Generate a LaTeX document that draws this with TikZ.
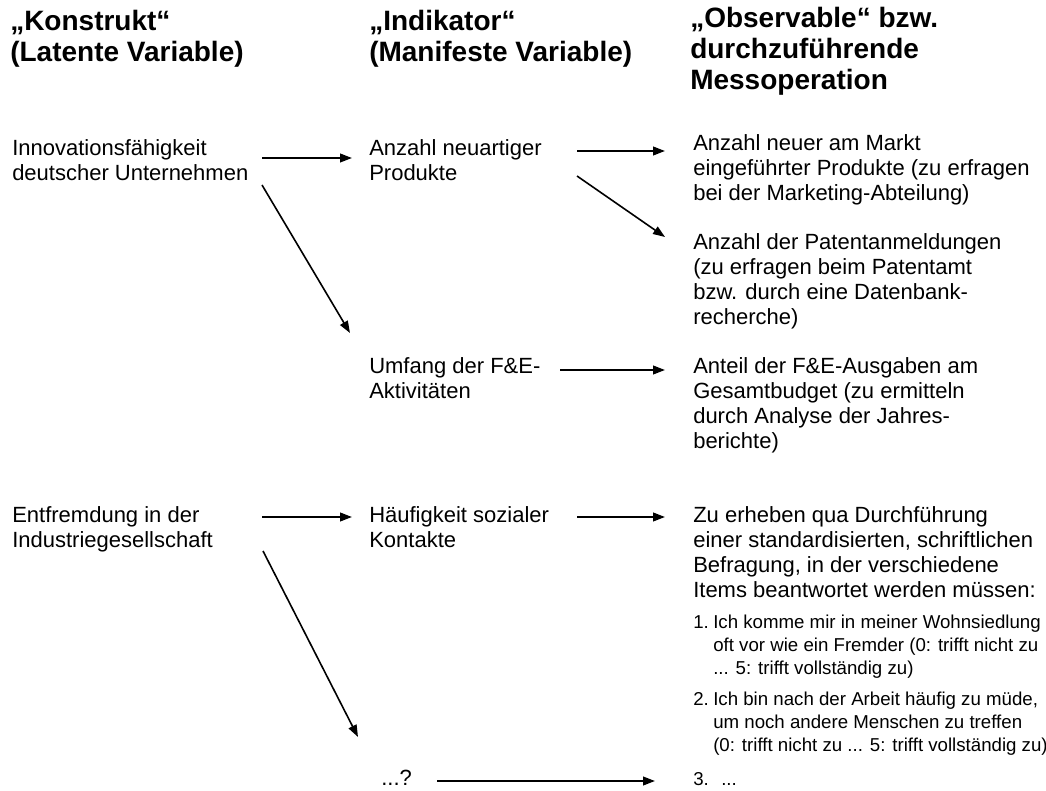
\documentclass[tikz,border=0pt]{standalone}
\usepackage{fontspec}
\setmainfont{Liberation Sans}
\usetikzlibrary{arrows.meta}

% anchor=base west sitzt bei mehrzeiligen Knoten auf der letzten Zeile
\tikzset{
  kopf/.style={anchor=base west, inner sep=0pt, align=left,
    font=\fontsize{21}{23.6}\selectfont\bfseries},
  txt/.style={anchor=base west, inner sep=0pt, align=left,
    font=\fontsize{16.5}{18.75}\selectfont},
  klein/.style={anchor=base west, inner sep=0pt, align=left,
    font=\fontsize{14}{17.25}\selectfont},
  pfeil/.style={-{Triangle[length=9pt,width=6.5pt]}, line width=1.5pt},
}

\begin{document}
\begin{tikzpicture}[x=0.75pt,y=-0.75pt]
        \useasboundingbox (0,0) rectangle (1046,791);

        % Spaltenkoepfe
        \node[kopf] (konstrukt) at (10,61.5) {„Konstrukt“\\(Latente Variable)};
        \node[kopf] (indikator) at (369,61.5) {„Indikator“\\(Manifeste Variable)};
        \node[kopf] (observable) at (690,90) {„Observable“ bzw.\\durchzuführende\\Messoperation};

        % Innovationsfaehigkeit
        \node[txt] (innov) at (12,181) {Innovationsfähigkeit\\deutscher Unternehmen};
        \node[txt] (neuart) at (369,181) {Anzahl neuartiger\\Produkte};
        \node[txt] (markt) at (693,201) {Anzahl neuer am Markt\\eingeführter Produkte (zu erfragen\\bei der Marketing-Abteilung)};
        \node[txt] (patent) at (693,325) {Anzahl der Patentanmeldungen\\(zu erfragen beim Patentamt\\bzw. durch eine Datenbank-\\recherche)};
        \node[txt] (fue) at (369,399) {Umfang der F\&E-\\Aktivitäten};
        \node[txt] (budget) at (693,449) {Anteil der F\&E-Ausgaben am\\Gesamtbudget (zu ermitteln\\durch Analyse der Jahres-\\berichte)};

        % Entfremdung
        \node[txt] (entfr) at (12,547) {Entfremdung in der\\Industriegesellschaft};
        \node[txt] (kontakt) at (369,547) {Häufigkeit sozialer\\Kontakte};
        \node[txt] (befrag) at (693,597) {Zu erheben qua Durchführung\\einer standardisierten, schriftlichen\\Befragung, in der verschiedene\\Items beantwortet werden müssen:};
        \node[klein] (nr1) at (693,628) {1.};
        \node[klein] (item1) at (713,674) {Ich komme mir in meiner Wohnsiedlung\\oft vor wie ein Fremder (0: trifft nicht zu\\... 5: trifft vollständig zu)};
        \node[klein] (nr2) at (693,705) {2.};
        \node[klein] (item2) at (713,751) {Ich bin nach der Arbeit häufig zu müde,\\um noch andere Menschen zu treffen\\(0: trifft nicht zu ... 5: trifft vollständig zu)};
        \node[klein] (nr3) at (693,785) {3.};
        \node[klein] (item3) at (721,785) {...};
        \node[txt] (frage) at (381,785) {...?};

        % Pfeilenden
        \coordinate (a1s) at (262,158);  \coordinate (a1e) at (352,158);
        \coordinate (a2s) at (262,185);  \coordinate (a2e) at (350,333);
        \coordinate (a3s) at (577,151);  \coordinate (a3e) at (665,151);
        \coordinate (a4s) at (577,176);  \coordinate (a4e) at (665,237);
        \coordinate (a5s) at (560,370);  \coordinate (a5e) at (665,370);
        \coordinate (a6s) at (262,517);  \coordinate (a6e) at (352,517);
        \coordinate (a7s) at (577,517);  \coordinate (a7e) at (665,517);
        \coordinate (a8s) at (263,551);  \coordinate (a8e) at (358,737);
        \coordinate (a9s) at (437,781);  \coordinate (a9e) at (655,781);

        \draw[pfeil] (a1s) -- (a1e);
        \draw[pfeil, line width=1.2pt] (a2s) -- (a2e);
        \draw[pfeil] (a3s) -- (a3e);
        \draw[pfeil, line width=1.2pt] (a4s) -- (a4e);
        \draw[pfeil] (a5s) -- (a5e);
        \draw[pfeil] (a6s) -- (a6e);
        \draw[pfeil] (a7s) -- (a7e);
        \draw[pfeil, line width=1.2pt] (a8s) -- (a8e);
        \draw[pfeil] (a9s) -- (a9e);
      \end{tikzpicture}
\end{document}
